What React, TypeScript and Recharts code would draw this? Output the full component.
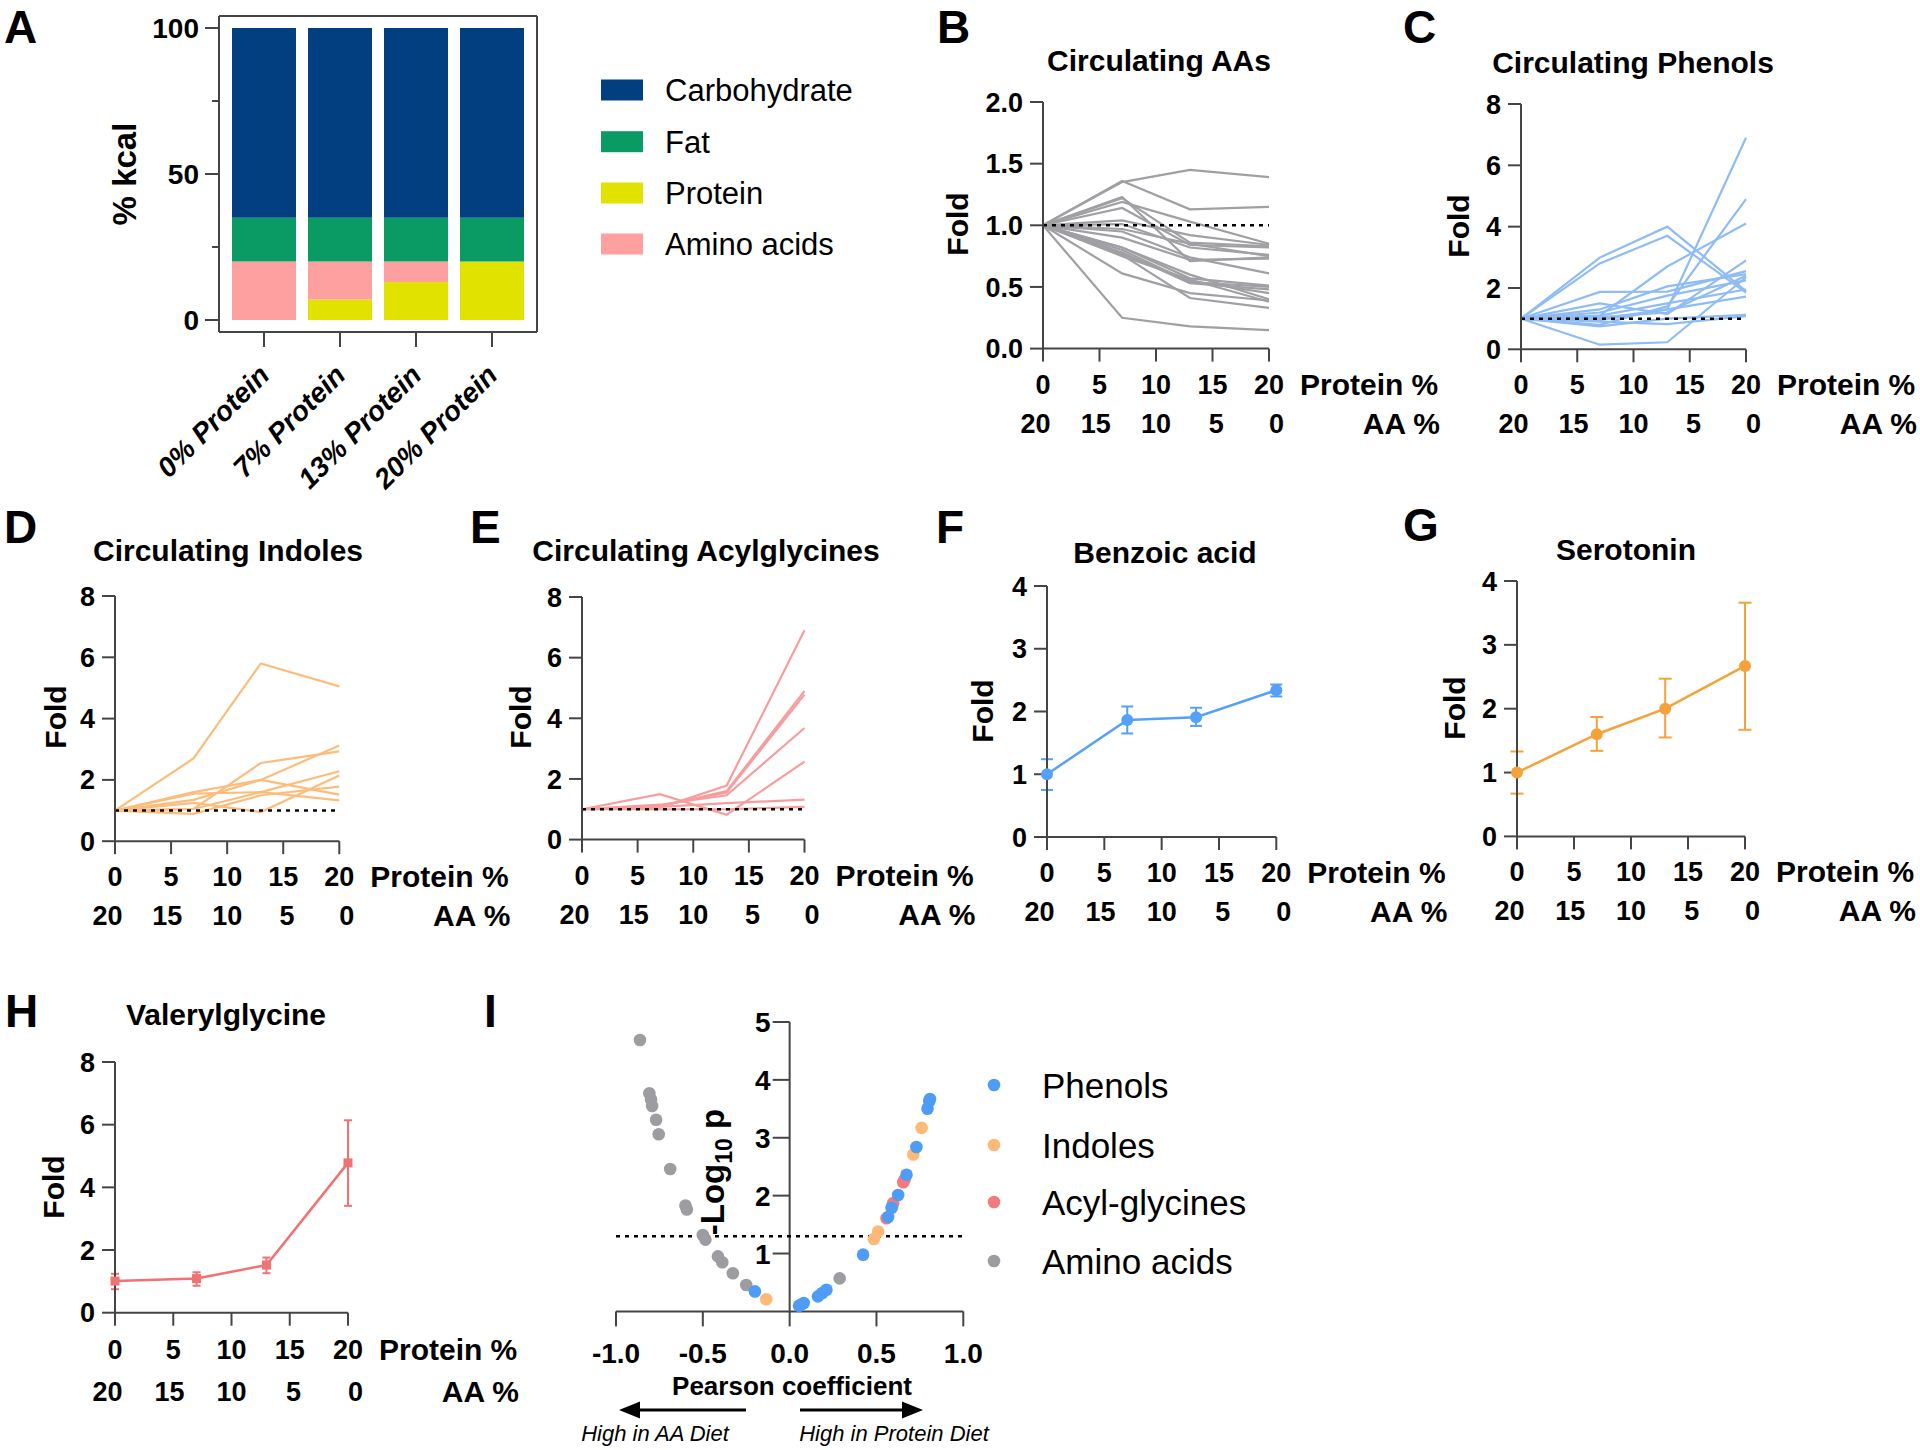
import React from 'react';
import {
  BarChart, Bar, LineChart, Line, ScatterChart, Scatter,
  XAxis, YAxis, ReferenceLine, ErrorBar,
} from 'recharts';

const FONT = '"Liberation Sans", Arial, Helvetica, sans-serif';
const AXIS = '#454545';

/* ---------------- Panel A: diet composition (% kcal) ---------------- */
const dietCategories = ['0% Protein', '7% Protein', '13% Protein', '20% Protein'];
const proteinKcal = [0, 7, 13, 20];
const aminoAcidKcal = [20, 13, 7, 0];
const fatKcal = [15, 15, 15, 15];
const carbohydrateKcal = [65, 65, 65, 65];
const kcalTicks = [0, 25, 50, 75, 100];
const kcalLabelledTicks = [0, 50, 100];
const macroNames = ['Carbohydrate', 'Fat', 'Protein', 'Amino acids'];
const macroColors = ['#023f80', '#0a9a63', '#e2e200', '#ffa0a0'];

/* ---------------- shared diet axis ---------------- */
const proteinLevels = [0, 7, 13, 20];
const proteinTicks = [0, 5, 10, 15, 20];
const aaTicks = [20, 15, 10, 5, 0];

/* ---------------- Panel B: circulating AAs (fold) ---------------- */
const aaFoldLines = [
  [1, 1.35, 1.45, 1.39],
  [1, 1.36, 1.13, 1.15],
  [1, 1.19, 1.03, 0.85],
  [1, 1.23, 0.71, 0.74],
  [1, 1.22, 0.86, 0.83],
  [1, 1.14, 0.84, 0.82],
  [1, 1.04, 0.92, 0.84],
  [1, 1.01, 0.82, 0.76],
  [1, 0.97, 0.85, 0.75],
  [1, 0.95, 0.74, 0.61],
  [1, 0.9, 0.72, 0.73],
  [1, 0.82, 0.57, 0.51],
  [1, 0.8, 0.54, 0.5],
  [1, 0.78, 0.53, 0.48],
  [1, 0.77, 0.55, 0.45],
  [1, 0.82, 0.6, 0.4],
  [1, 0.75, 0.56, 0.38],
  [1, 0.61, 0.45, 0.39],
  [1, 0.76, 0.41, 0.33],
  [1, 0.25, 0.18, 0.15],
];
const aaFoldTicks = [0, 0.5, 1, 1.5, 2];

/* ---------------- Panel C: circulating phenols ---------------- */
const phenolFoldLines = [
  [1, 2.99, 4.0, 1.9],
  [1, 2.8, 3.7, 1.85],
  [1, 0.95, 1.3, 6.9],
  [1, 0.8, 1.4, 4.9],
  [1, 1.1, 2.7, 4.1],
  [1, 0.15, 0.23, 2.35],
  [1, 1.87, 1.88, 2.55],
  [1, 1.5, 1.15, 2.9],
  [1, 1.3, 2.05, 2.45],
  [1, 1.2, 1.75, 2.25],
  [1, 1.1, 1.5, 1.95],
  [1, 1.0, 1.3, 1.72],
  [1, 0.75, 1.0, 1.12],
  [1, 0.9, 0.82, 1.08],
  [1, 1.05, 1.2, 2.4],
];

/* ---------------- Panel D: circulating indoles ---------------- */
const indoleFoldLines = [
  [1, 2.7, 5.8, 5.05],
  [1, 1.05, 2.55, 2.93],
  [1, 1.6, 2.0, 1.52],
  [1, 1.35, 2.0, 3.12],
  [1, 1.55, 1.6, 1.33],
  [1, 1.25, 0.95, 2.14],
  [1, 1.05, 1.6, 2.28],
  [1, 0.89, 1.5, 1.78],
];

/* ---------------- Panel E: circulating acylglycines ---------------- */
const acylFoldLines = [
  [1, 1.05, 1.78, 6.9],
  [1, 1.1, 1.6, 4.9],
  [1, 1.12, 1.55, 4.78],
  [1, 1.15, 1.46, 3.68],
  [1, 1.5, 0.82, 2.57],
  [1, 1.08, 1.2, 1.32],
  [1, 1.0, 1.0, 1.08],
];
const fold8Ticks = [0, 2, 4, 6, 8];
const fold4Ticks = [0, 1, 2, 3, 4];

/* ---------------- Panels F-H: mean with error ---------------- */
const benzoicMean = [1.0, 1.865, 1.91, 2.34];
const benzoicLow = [0.75, 1.65, 1.77, 2.24];
const benzoicHigh = [1.24, 2.08, 2.06, 2.43];

const serotoninMean = [1.0, 1.6, 2.0, 2.67];
const serotoninLow = [0.67, 1.34, 1.55, 1.67];
const serotoninHigh = [1.33, 1.87, 2.47, 3.66];

const valerylMean = [1.01, 1.09, 1.52, 4.78];
const valerylLow = [0.75, 0.86, 1.26, 3.41];
const valerylHigh = [1.24, 1.29, 1.76, 6.14];

/* ---------------- Panel I: volcano ---------------- */
const phenolPoints = [
  { x: -0.2, y: 0.345 }, { x: 0.054, y: 0.098 }, { x: 0.062, y: 0.11 }, { x: 0.081, y: 0.144 },
  { x: 0.163, y: 0.26 }, { x: 0.188, y: 0.317 }, { x: 0.212, y: 0.374 }, { x: 0.423, y: 0.98 },
  { x: 0.567, y: 1.63 }, { x: 0.587, y: 1.79 }, { x: 0.625, y: 2.01 }, { x: 0.673, y: 2.36 },
  { x: 0.73, y: 2.84 }, { x: 0.794, y: 3.5 }, { x: 0.804, y: 3.63 }, { x: 0.808, y: 3.67 },
];
const indolePoints = [
  { x: -0.135, y: 0.21 }, { x: 0.485, y: 1.25 }, { x: 0.51, y: 1.38 }, { x: 0.59, y: 1.8 },
  { x: 0.712, y: 2.71 }, { x: 0.76, y: 3.17 },
];
const acylPoints = [
  { x: 0.558, y: 1.61 }, { x: 0.596, y: 1.87 }, { x: 0.654, y: 2.23 }, { x: 0.662, y: 2.28 },
];
const aminoPoints = [
  { x: -0.862, y: 4.69 }, { x: -0.808, y: 3.77 }, { x: -0.798, y: 3.66 }, { x: -0.792, y: 3.55 },
  { x: -0.769, y: 3.31 }, { x: -0.754, y: 3.06 }, { x: -0.688, y: 2.46 }, { x: -0.6, y: 1.83 },
  { x: -0.592, y: 1.76 }, { x: -0.5, y: 1.32 }, { x: -0.485, y: 1.24 }, { x: -0.413, y: 0.95 },
  { x: -0.388, y: 0.85 }, { x: -0.327, y: 0.66 }, { x: -0.25, y: 0.455 }, { x: 0.288, y: 0.57 },
];
const pearsonTicks = [-1, -0.5, 0, 0.5, 1];
const logpTicks = [1, 2, 3, 4, 5];
const significanceLine = 1.3;
const volcanoNames = ['Phenols', 'Indoles', 'Acyl-glycines', 'Amino acids'];
const volcanoColors = ['#4e9cf6', '#fdb977', '#f47b7b', '#9d9da1'];

/* ---------------- layout (page pixels) ---------------- */
type Geo = { x: number; y: number; w: number; h: number };
const GEO: Record<string, Geo> = {
  A: { x: 219, y: 16, w: 318, h: 316 },
  B: { x: 1043.3, y: 101.7, w: 226, h: 246.6 },
  C: { x: 1521, y: 104, w: 225, h: 245.3 },
  D: { x: 115, y: 595.5, w: 224.3, h: 245.2 },
  E: { x: 582, y: 596.7, w: 222.5, h: 242.6 },
  F: { x: 1046.7, y: 585.7, w: 229.3, h: 251 },
  G: { x: 1517, y: 581.3, w: 228, h: 255.4 },
  H: { x: 115, y: 1062, w: 233, h: 250.7 },
  I: { x: 616, y: 1022.3, w: 347.3, h: 289.4 },
};
const YW = 130;
const TOP = 20;
const RM = 180;
const XH = 110;

const tickText: any = { fontSize: 27, fontWeight: 700, fill: '#000', fontFamily: FONT };
const titleText: any = { fontSize: 30, fontWeight: 700, fill: '#000', fontFamily: FONT };
const axisLine = { stroke: AXIS, strokeWidth: 2 };

const makeDualTick = (extra: number) => (p: any) => {
  const { x, y, payload, index } = p;
  const last = index === proteinTicks.length - 1;
  const aa = aaTicks[index];
  return (
    <g>
      <text x={x} y={y + 32 + extra / 3} textAnchor="middle" style={tickText}>{payload.value}</text>
      <text x={x + (10 - aa) * 0.75} y={y + 71 + extra} textAnchor="middle" style={tickText}>{aa}</text>
      {last ? <text x={x + 31} y={y + 33 + extra / 3} style={titleText}>Protein %</text> : null}
      {last ? <text x={x + 171} y={y + 72 + extra} textAnchor="end" style={titleText}>AA %</text> : null}
    </g>
  );
};

const proteinXAxis = (extra: number) => (
  <XAxis
    dataKey="x" type="number" domain={[0, 20]} ticks={proteinTicks} interval={0} height={XH}
    axisLine={axisLine} tickLine={axisLine} tickSize={13} tickMargin={0}
    tick={makeDualTick(extra)}
  />
);
const foldYAxis = (domain: number[], ticks: number[], fmt?: (v: number) => string) => (
  <YAxis
    type="number" domain={domain} ticks={ticks} interval={0} width={YW}
    axisLine={axisLine} tickLine={axisLine} tickSize={13} tickMargin={7}
    tick={tickText} tickFormatter={fmt}
  />
);

function Place({ geo, children }: { geo: Geo; children: any }) {
  return <div style={{ position: 'absolute', left: geo.x - YW, top: geo.y - TOP }}>{children}</div>;
}

function SpaghettiPanel({ geo, lines, color, domain, ticks, fmt }: any) {
  const rows = proteinLevels.map((x, i) => {
    const r: any = { x };
    lines.forEach((l: number[], k: number) => { r['s' + k] = l[i]; });
    return r;
  });
  return (
    <Place geo={geo}>
      <LineChart width={YW + geo.w + RM} height={TOP + geo.h + XH + 5} data={rows}
        margin={{ top: TOP, right: RM, bottom: 5, left: 0 }}>
        {proteinXAxis(0)}
        {foldYAxis(domain, ticks, fmt)}
        {lines.map((_: any, k: number) => (
          <Line key={k} dataKey={'s' + k} type="linear" stroke={color} strokeWidth={2.2}
            dot={false} activeDot={false} isAnimationActive={false} />
        ))}
        <ReferenceLine y={1} stroke="#000" strokeWidth={2.5} strokeDasharray="4 5" />
      </LineChart>
    </Place>
  );
}

function MeanPanel({ geo, mean, low, high, color, domain, ticks, square, cap, extra = 0 }: any) {
  const rows = proteinLevels.map((x, i) => ({ x, mean: mean[i], err: [mean[i] - low[i], high[i] - mean[i]] }));
  const dot = square
    ? (p: any) => <rect key={p.index} x={p.cx - 4.5} y={p.cy - 4.5} width={9} height={9} fill={color} />
    : { r: 6, fill: color, stroke: color, strokeWidth: 0 };
  return (
    <Place geo={geo}>
      <LineChart width={YW + geo.w + RM} height={TOP + geo.h + XH + 5} data={rows}
        margin={{ top: TOP, right: RM, bottom: 5, left: 0 }}>
        {proteinXAxis(extra)}
        {foldYAxis(domain, ticks)}
        <Line dataKey="mean" type="linear" stroke={color} strokeWidth={2.5} dot={dot}
          activeDot={false} isAnimationActive={false}>
          <ErrorBar dataKey="err" width={cap} strokeWidth={2} stroke={color} direction="y" />
        </Line>
      </LineChart>
    </Place>
  );
}

function DietPanel() {
  const g = GEO.A;
  const rows = dietCategories.map((name, i) => ({
    name, protein: proteinKcal[i], aa: aminoAcidKcal[i], fat: fatKcal[i], carb: carbohydrateKcal[i],
  }));
  const kcalTick = (p: any) => {
    const v = p.payload.value;
    const major = kcalLabelledTicks.includes(v);
    return (
      <g>
        <line x1={p.x - (major ? 14 : 7)} x2={p.x} y1={p.y} y2={p.y} stroke={AXIS} strokeWidth={2} />
        {major ? <text x={p.x - 20} y={p.y} dy="0.36em" textAnchor="end" style={{ ...tickText, fontSize: 28 }}>{v}</text> : null}
      </g>
    );
  };
  const dietTick = (p: any) => {
    const tx = p.x + 7;
    const ty = p.y + 30;
    return (
      <text x={tx} y={ty} textAnchor="end" transform={`rotate(-45 ${tx} ${ty})`}
        style={{ ...tickText, fontSize: 28, fontStyle: 'italic' }}>{p.payload.value}</text>
    );
  };
  const seriesKeys = ['carb', 'fat', 'protein', 'aa'];
  const stackOrder = [2, 3, 1, 0];
  return (
    <div style={{ position: 'absolute', left: g.x - 120, top: g.y - 10 }}>
      <BarChart width={120 + g.w + 10} height={10 + g.h + 190} data={rows}
        margin={{ top: 9, right: 9, bottom: 0, left: 0 }} barSize={64}>
        <XAxis dataKey="name" interval={0} height={190} padding={{ left: 7, right: 7 }}
          axisLine={axisLine} tickLine={axisLine} tickSize={15} tickMargin={0} tick={dietTick} />
        <XAxis xAxisId="top" orientation="top" dataKey="name" height={1} tick={false}
          tickLine={false} axisLine={axisLine} />
        <YAxis domain={[0, 100]} ticks={kcalTicks} interval={0} width={120}
          padding={{ top: 12, bottom: 12 }} axisLine={axisLine} tickLine={false}
          tickSize={0} tickMargin={0} tick={kcalTick} />
        <YAxis yAxisId="right" orientation="right" domain={[0, 100]} width={1} tick={false}
          tickLine={false} axisLine={axisLine} />
        {stackOrder.map((si) => (
          <Bar key={seriesKeys[si]} dataKey={seriesKeys[si]} stackId="a" fill={macroColors[si]}
            isAnimationActive={false} />
        ))}
      </BarChart>
    </div>
  );
}

function VolcanoPanel() {
  const g = GEO.I;
  const half = g.w / 2;
  const logpTick = (p: any) => {
    const ax = p.x + half;
    return (
      <g>
        <line x1={ax - 17} x2={ax} y1={p.y} y2={p.y} stroke={AXIS} strokeWidth={2} />
        <text x={ax - 19} y={p.y} dy="0.36em" textAnchor="end" style={{ ...tickText, fontSize: 28 }}>{p.payload.value}</text>
      </g>
    );
  };
  const groups = [
    { pts: aminoPoints, c: volcanoColors[3] },
    { pts: indolePoints, c: volcanoColors[1] },
    { pts: acylPoints, c: volcanoColors[2] },
    { pts: phenolPoints, c: volcanoColors[0] },
  ];
  return (
    <div style={{ position: 'absolute', left: g.x - 120, top: g.y - 20 }}>
      <ScatterChart width={120 + g.w + 20} height={20 + g.h + 70}
        margin={{ top: 20, right: 20, bottom: 0, left: 0 }}>
        <XAxis type="number" dataKey="x" domain={[-1, 1]} ticks={pearsonTicks} interval={0}
          height={70} axisLine={axisLine} tickLine={axisLine} tickSize={15} tickMargin={17}
          tick={{ ...tickText, fontSize: 28 }} tickFormatter={(v: number) => v.toFixed(1)} />
        <YAxis type="number" dataKey="y" domain={[0, 5]} ticks={logpTicks} interval={0} width={120}
          axisLine={false} tickLine={false} tickSize={0} tickMargin={0} tick={logpTick} />
        <ReferenceLine x={0} stroke={AXIS} strokeWidth={2} />
        <ReferenceLine y={significanceLine} stroke="#000" strokeWidth={2.5} strokeDasharray="4 5" />
        {groups.map((gr, k) => (
          <Scatter key={k} data={gr.pts} fill={gr.c} isAnimationActive={false}
            shape={(p: any) => <circle cx={p.cx} cy={p.cy} r={6.3} fill={gr.c} />} />
        ))}
      </ScatterChart>
    </div>
  );
}

function Overlay() {
  const T = (props: any) => <text fontFamily={FONT} fill="#000" {...props} />;
  const letter = (t: string, x: number, y: number) => <T key={t} x={x} y={y} fontSize={46} fontWeight={700}>{t}</T>;
  const title = (t: string, x: number, y: number) => <T key={t} x={x} y={y} fontSize={30} fontWeight={700} textAnchor="middle">{t}</T>;
  const fold = (k: string, x: number, y: number) => (
    <T key={k} x={x} y={y} fontSize={30} fontWeight={700} textAnchor="middle" transform={`rotate(-90 ${x} ${y})`}>Fold</T>
  );
  const aLegendY = [90, 141.7, 193, 244];
  const iLegendY = [1085, 1145, 1202, 1261];
  return (
    <svg width={1920} height={1450} style={{ position: 'absolute', left: 0, top: 0, pointerEvents: 'none' }}>
      {letter('A', 4, 43)}
      {letter('B', 937, 43)}
      {letter('C', 1403, 43)}
      {letter('D', 4, 543)}
      {letter('E', 470, 543)}
      {letter('F', 936, 543)}
      {letter('G', 1403, 541)}
      {letter('H', 5, 1027)}
      {letter('I', 484, 1027)}

      {title('Circulating AAs', 1159, 71)}
      {title('Circulating Phenols', 1633, 73)}
      {title('Circulating Indoles', 228, 561)}
      {title('Circulating Acylglycines', 706, 561)}
      {title('Benzoic acid', 1165, 563)}
      {title('Serotonin', 1626, 560)}
      {title('Valerylglycine', 226, 1025)}

      {fold('fB', 968, 224)}
      {fold('fC', 1469, 226)}
      {fold('fD', 66, 717)}
      {fold('fE', 531, 717)}
      {fold('fF', 993, 711)}
      {fold('fG', 1465, 708)}
      {fold('fH', 64, 1187)}

      <T x={136} y={174} fontSize={33} fontWeight={700} textAnchor="middle" transform="rotate(-90 136 174)">% kcal</T>

      {macroNames.map((n, i) => (
        <g key={n}>
          <rect x={601} y={aLegendY[i] - 10.5} width={42} height={21} fill={macroColors[i]} />
          <T x={665} y={aLegendY[i] + 11} fontSize={31}>{n}</T>
        </g>
      ))}

      {volcanoNames.map((n, i) => (
        <g key={n}>
          <circle cx={994} cy={iLegendY[i]} r={6.3} fill={volcanoColors[i]} />
          <T x={1042} y={iLegendY[i] + 12.5} fontSize={35}>{n}</T>
        </g>
      ))}

      <T x={724} y={1172} fontSize={33} fontWeight={700} textAnchor="middle" transform="rotate(-90 724 1172)">
        -Log<tspan fontSize={23} dy={8}>10</tspan><tspan dy={-8}> p</tspan>
      </T>
      <T x={792} y={1395} fontSize={26} fontWeight={700} textAnchor="middle">Pearson coefficient</T>

      <line x1={746} y1={1410} x2={636} y2={1410} stroke="#000" strokeWidth={3} />
      <polygon points="619,1410 640,1401.5 640,1418.5" fill="#000" />
      <line x1={800} y1={1410} x2={905} y2={1410} stroke="#000" strokeWidth={3} />
      <polygon points="923,1410 902,1401.5 902,1418.5" fill="#000" />
      <T x={655} y={1441} fontSize={22} fontStyle="italic" textAnchor="middle">High in AA Diet</T>
      <T x={894} y={1441} fontSize={22} fontStyle="italic" textAnchor="middle">High in Protein Diet</T>
    </svg>
  );
}

export default function App() {
  return (
    <div style={{ position: 'absolute', left: 0, top: 0, width: 1920, height: 1450, overflow: 'hidden', background: '#fff', fontFamily: FONT }}>
      <DietPanel />
      <SpaghettiPanel geo={GEO.B} lines={aaFoldLines} color="#a0a0a4" domain={[0, 2]} ticks={aaFoldTicks}
        fmt={(v: number) => v.toFixed(1)} />
      <SpaghettiPanel geo={GEO.C} lines={phenolFoldLines} color="#8fbcf2" domain={[0, 8]} ticks={fold8Ticks} />
      <SpaghettiPanel geo={GEO.D} lines={indoleFoldLines} color="#fcbd7c" domain={[0, 8]} ticks={fold8Ticks} />
      <SpaghettiPanel geo={GEO.E} lines={acylFoldLines} color="#f79d9d" domain={[0, 8]} ticks={fold8Ticks} />
      <MeanPanel geo={GEO.F} mean={benzoicMean} low={benzoicLow} high={benzoicHigh} color="#55a0f8"
        domain={[0, 4]} ticks={fold4Ticks} cap={6} />
      <MeanPanel geo={GEO.G} mean={serotoninMean} low={serotoninLow} high={serotoninHigh} color="#f6a23a"
        domain={[0, 4]} ticks={fold4Ticks} cap={6.5} />
      <MeanPanel geo={GEO.H} mean={valerylMean} low={valerylLow} high={valerylHigh} color="#f07272"
        domain={[0, 8]} ticks={fold8Ticks} square cap={4} extra={4} />
      <VolcanoPanel />
      <Overlay />
    </div>
  );
}
